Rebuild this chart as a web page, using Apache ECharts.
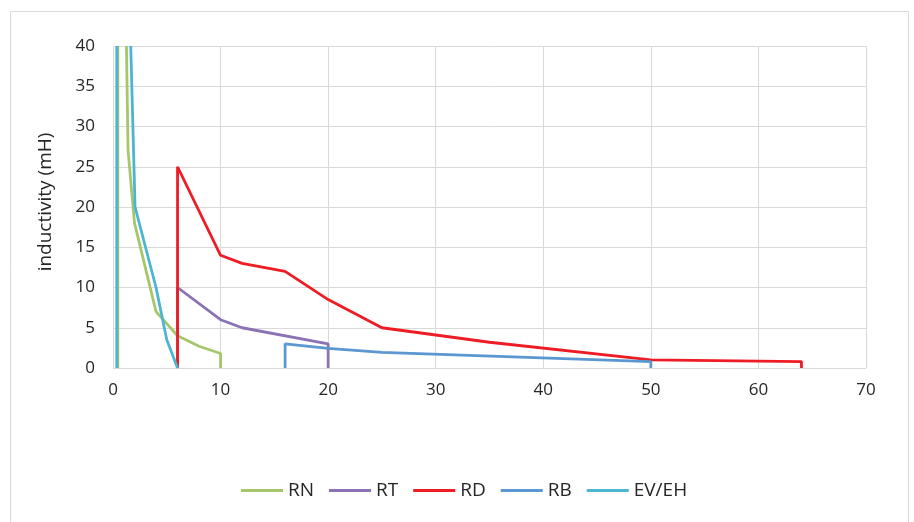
<!DOCTYPE html>
<html>
<head>
<meta charset="utf-8">
<script src="https://cdn.jsdelivr.net/npm/echarts@6/dist/echarts.min.js"></script>
<style>
html,body{margin:0;padding:0;background:#fff;}
#chart{width:914px;height:522px;}
</style>
</head>
<body>
<div id="chart"></div>
<script>
const seriesNames = ['RN', 'RT', 'RD', 'RB', 'EV/EH'];
const seriesColors = ['#A5C76B', '#8A72B4', '#EE1C25', '#5B97D0', '#4CB5D2'];
const xTicks = [0, 10, 20, 30, 40, 50, 60, 70];
const yTicks = [0, 5, 10, 15, 20, 25, 30, 35, 40];

const RN = [[0.45, 0], [0.45, 40], [0.45, '-'], [1.25, 40], [1.4, 27], [2, 18], [4, 7], [6, 4], [8, 2.7], [10, 1.8], [10, 0]];
const RT = [[6, 0], [6, 10], [10, 6], [12, 5], [20, 3], [20, 0]];
const RD = [[6, 0], [6, 25], [10, 14], [12, 13], [16, 12], [20, 8.5], [25, 5], [35, 3.2], [50, 1], [64, 0.8], [64, 0]];
const RB = [[16, 0], [16, 3], [20, 2.45], [25, 1.95], [50, 0.8], [50, 0]];
const EVEH = [[0.35, 0], [0.35, 40], [0.35, '-'], [1.65, 40], [2.05, 20], [4, 10], [5, 3.5], [6, 0]];

const seriesData = [RN, RT, RD, RB, EVEH];
const font = 'Open Sans';

const chart = echarts.init(document.getElementById('chart'));
chart.setOption({
  animation: false,
  backgroundColor: '#fff',
  graphic: [{
    type: 'rect',
    shape: {x: 10.5, y: 11.5, width: 898, height: 530},
    style: {fill: 'none', stroke: '#d9d9d9', lineWidth: 1},
    silent: true, z: -1
  }],
  grid: {left: 113, right: 48, top: 46, bottom: 154},
  legend: {
    top: 476, left: 236,
    icon: 'rect', itemWidth: 42, itemHeight: 3, itemGap: 15,
    textStyle: {fontFamily: font, fontSize: 19, color: '#262626'},
    data: seriesNames
  },
  xAxis: {
    type: 'value', min: xTicks[0], max: xTicks[xTicks.length - 1], interval: 10,
    axisLine: {show: false}, axisTick: {show: false},
    axisLabel: {fontFamily: font, fontSize: 17, color: '#262626', margin: 14},
    splitLine: {show: true, lineStyle: {color: '#d9d9d9', width: 1}}
  },
  yAxis: {
    type: 'value', min: yTicks[0], max: yTicks[yTicks.length - 1], interval: 5,
    name: 'inductivity (mH)', nameLocation: 'middle', nameGap: 58,
    nameTextStyle: {fontFamily: font, fontSize: 19, color: '#262626', padding: [0, 0, 0, 10]},
    axisLine: {show: false}, axisTick: {show: false},
    axisLabel: {fontFamily: font, fontSize: 17, color: '#262626', margin: 18},
    splitLine: {show: true, lineStyle: {color: '#d9d9d9', width: 1}}
  },
  series: seriesNames.map((n, i) => ({
    name: n, type: 'line', data: seriesData[i],
    showSymbol: false, symbol: 'none', connectNulls: false,
    color: seriesColors[i],
    lineStyle: {width: 2.8, color: seriesColors[i]},
    clip: true
  }))
});
</script>
</body>
</html>
